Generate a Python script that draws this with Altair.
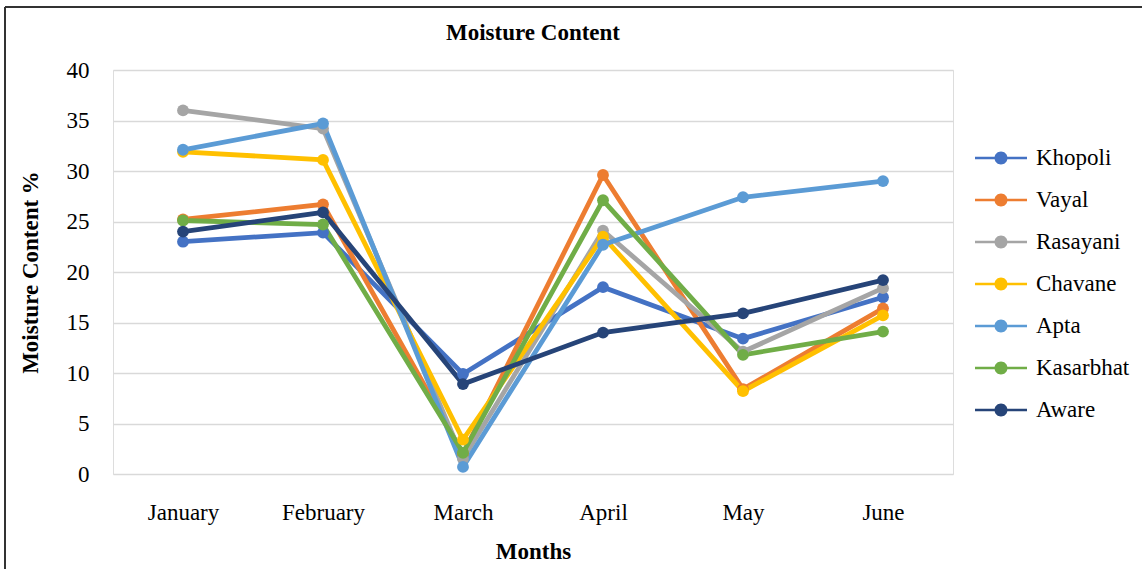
import altair as alt
import pandas as pd

months = ["January", "February", "March", "April", "May", "June"]
series = ["Khopoli", "Vayal", "Rasayani", "Chavane", "Apta", "Kasarbhat", "Aware"]
colors = ["#4472C4", "#ED7D31", "#A5A5A5", "#FFC000", "#5B9BD5", "#70AD47", "#264478"]

khopoli = [23.0, 23.9, 9.9, 18.5, 13.4, 17.5]
vayal = [25.2, 26.7, 2.0, 29.6, 8.4, 16.4]
rasayani = [36.0, 34.2, 1.5, 24.1, 12.1, 18.4]
chavane = [31.9, 31.1, 3.4, 23.5, 8.2, 15.7]
apta = [32.1, 34.7, 0.7, 22.7, 27.4, 29.0]
kasarbhat = [25.1, 24.7, 2.1, 27.1, 11.8, 14.1]
aware = [24.0, 25.9, 8.9, 14.0, 15.9, 19.2]

values = [khopoli, vayal, rasayani, chavane, apta, kasarbhat, aware]

rows = []
for name, vals in zip(series, values):
    for m, v in zip(months, vals):
        rows.append({"Month": m, "Site": name, "Value": v})
df = pd.DataFrame(rows)

FONT = "Liberation Serif"
FS = 23

x = alt.X("Month:N", sort=months,
          scale=alt.Scale(type="point", padding=0.5),
          axis=alt.Axis(title="Months", labelAngle=0, labelFontSize=FS,
                        labelFont=FONT, labelColor="#000", labelPadding=27,
                        titleFont=FONT, titleFontSize=FS, titleFontWeight="bold",
                        titleColor="#000", titlePadding=16,
                        domain=False, ticks=False, grid=False))
y = alt.Y("Value:Q",
          scale=alt.Scale(domain=[0, 40]),
          axis=alt.Axis(title="Moisture Content %", values=list(range(0, 41, 5)),
                        labelFontSize=FS, labelFont=FONT, labelColor="#000",
                        labelPadding=24, titleFont=FONT, titleFontSize=FS,
                        titleFontWeight="bold", titleColor="#000", titlePadding=24,
                        domain=False, ticks=False, gridColor="#d9d9d9", gridWidth=1.5))

legend_path = ("M-2,-0.1 L2,-0.1 L2,0.1 L-2,0.1 Z "
               "M-0.5,0 A0.5,0.5 0 1,1 0.5,0 A0.5,0.5 0 1,1 -0.5,0 Z")

cscale = alt.Scale(domain=series, range=colors)
legend = alt.Legend(title=None, orient="none", legendX=862, legendY=75,
                    symbolType=legend_path, symbolSize=676,
                    symbolStrokeWidth=0, symbolOpacity=1,
                    labelFont=FONT, labelFontSize=FS,
                    labelColor="#000", labelOffset=22,
                    rowPadding=17, symbolOffset=13)

lines = alt.Chart(df).mark_line(strokeWidth=4.8).encode(
    x=x, y=y, color=alt.Color("Site:N", scale=cscale, legend=legend))
points = alt.Chart(df).mark_point(filled=True, size=140, opacity=1).encode(
    x=x, y=y, color=alt.Color("Site:N", scale=cscale, legend=legend))

frame = alt.Chart(df).mark_rule(color="#333", strokeWidth=2).encode(
    x=alt.value(-108), y=alt.value(-63), y2=alt.value(520))
frame_top = alt.Chart(df).mark_rule(color="#333", strokeWidth=2).encode(
    x=alt.value(-108), x2=alt.value(1050), y=alt.value(-63))

chart = alt.layer(frame, frame_top, lines, points).properties(
    width=840, height=404,
    title=alt.Title("Moisture Content", font=FONT, fontSize=FS, fontWeight="bold",
                    color="#000", anchor="middle", offset=0, dy=39),
    autosize=alt.AutoSizeParams(type="none"),
    padding={"left": 113, "top": 70, "right": 189, "bottom": 95},
).configure_view(stroke="transparent", strokeWidth=0).configure(background="white")

chart.save("out.html", embed_options={"renderer": "svg", "actions": False})
